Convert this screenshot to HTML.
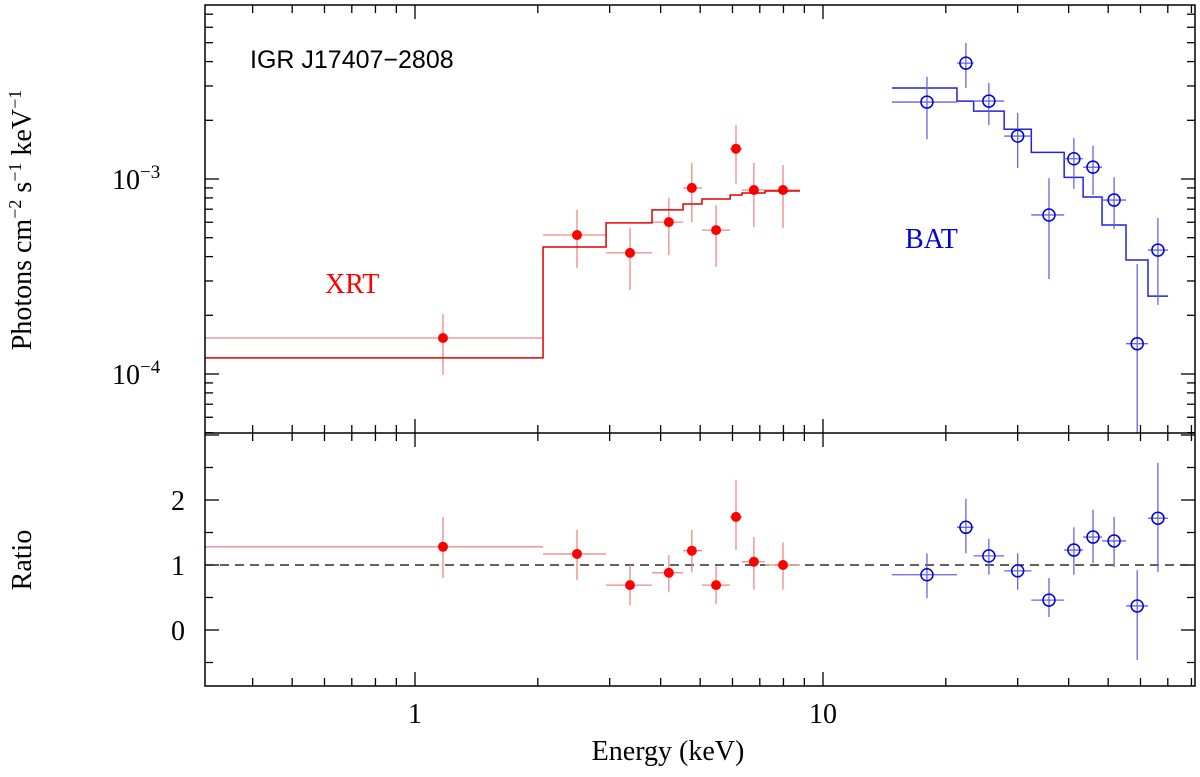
<!DOCTYPE html>
<html><head><meta charset="utf-8"><style>
body{margin:0;background:#fff}
svg{display:block}
text{font-family:"Liberation Serif",serif}
</style></head><body>
<svg id="c" width="1200" height="777" xmlns="http://www.w3.org/2000/svg"></svg>
<script>
const xrtE=[1.171,2.495,3.365,4.19,4.77,5.47,6.12,6.77,7.98];
const xrtElo=[0.305,2.06,2.94,3.81,4.54,5.05,5.92,6.33,7.21];
const xrtEhi=[2.06,2.94,3.81,4.54,5.05,5.92,6.33,7.21,8.78];
const xrtF=[1.53e-4,5.16e-4,4.18e-4,6.01e-4,9.0e-4,5.47e-4,1.43e-3,8.78e-4,8.78e-4];
const xrtFlo=[9.9e-5,3.5e-4,2.7e-4,4.07e-4,6.01e-4,3.54e-4,9.42e-4,5.67e-4,5.61e-4];
const xrtFhi=[2.03e-4,6.94e-4,5.61e-4,8.0e-4,1.21e-3,7.36e-4,1.89e-3,1.21e-3,1.18e-3];
const xrtModelEdges=[0.305,2.06,2.94,3.81,4.54,5.05,5.92,6.33,7.21,8.78];
const xrtModel=[1.21e-4,4.48e-4,5.96e-4,6.94e-4,7.44e-4,7.9e-4,8.28e-4,8.48e-4,8.68e-4];
const xrtRatio=[1.28,1.17,0.69,0.88,1.22,0.69,1.74,1.05,1.0];
const xrtRlo=[0.80,0.77,0.38,0.58,0.89,0.40,1.23,0.62,0.62];
const xrtRhi=[1.74,1.54,1.0,1.15,1.54,0.98,2.31,1.43,1.35];

const batE=[17.98,22.4,25.5,30.0,35.8,41.2,45.9,51.7,58.9,66.2];
const batElo=[14.76,21.3,23.4,27.8,32.4,39.0,43.4,48.3,55.3,62.6];
const batEhi=[21.3,23.4,27.8,32.4,39.0,43.4,48.3,55.3,62.6,70.1];
const batF=[2.48e-3,3.93e-3,2.51e-3,1.66e-3,6.54e-4,1.27e-3,1.15e-3,7.8e-4,1.43e-4,4.32e-4];
const batFlo=[1.60e-3,2.93e-3,1.89e-3,1.14e-3,3.07e-4,8.9e-4,8.28e-4,5.54e-4,1e-5,2.26e-4];
const batFhi=[3.34e-3,4.98e-3,3.11e-3,2.18e-3,1.01e-3,1.62e-3,1.48e-3,1.02e-3,3.67e-4,6.31e-4];
const batModelEdges=[14.76,21.3,23.4,27.8,32.4,39.0,43.4,48.3,55.3,62.6,70.1];
const batModel=[2.93e-3,2.51e-3,2.23e-3,1.80e-3,1.37e-3,1.02e-3,8.09e-4,5.81e-4,3.84e-4,2.51e-4];
const batRatio=[0.85,1.58,1.14,0.91,0.46,1.23,1.43,1.37,0.37,1.72];
const batRlo=[0.49,1.18,0.85,0.62,0.20,0.85,1.03,0.97,-0.46,0.89];
const batRhi=[1.18,2.02,1.40,1.18,0.80,1.58,1.85,1.74,0.92,2.57];

const yTickLabels=["10","10"];
const ratioTicks=[0,1,2];

const L=205,R=1195,T=5,M=433,B=686;
const X=e=>415+408*Math.log10(e);
const Y=v=>179-195*(Math.log10(v)+3);
const YR=r=>565-65*(r-1);
const svg=document.getElementById('c');
const NS='http://www.w3.org/2000/svg';
function mk(tag,at,parent){const e=document.createElementNS(NS,tag);for(const k in at)e.setAttribute(k,at[k]);(parent||svg).appendChild(e);return e;}

// clip paths
const defs=mk('defs',{});
const cp1=mk('clipPath',{id:'ct'},defs);mk('rect',{x:L,y:T,width:R-L,height:M-T},cp1);
const cp2=mk('clipPath',{id:'cb'},defs);mk('rect',{x:L,y:M,width:R-L,height:B-M},cp2);
const gt=mk('g',{'clip-path':'url(#ct)'});


const gb=mk('g',{'clip-path':'url(#cb)'});



function steps(edges,vals,yf,color,g,name){
  let d='';
  for(let i=0;i<vals.length;i++){
    const y=yf(vals[i]);
    d+=(i===0?'M':'L')+X(edges[i])+','+y+'L'+X(edges[i+1])+','+y;
  }
  const p=mk('path',{d:d,fill:'none',stroke:color,'stroke-width':1.5},g);
  
  
}
function pts(E,Elo,Ehi,V,Vlo,Vhi,yf,color,errColor,filled,g,name){
  for(let i=0;i<E.length;i++){
    const x=X(E[i]),y=yf(V[i]);
    const grp=mk('g',{},g);
    
    
    mk('line',{x1:X(Elo[i]),x2:X(Ehi[i]),y1:y,y2:y,stroke:errColor,'stroke-width':1.3},grp);
    mk('line',{x1:x,x2:x,y1:yf(Vlo[i]),y2:yf(Vhi[i]),stroke:errColor,'stroke-width':1.3},grp);
    if(filled)mk('circle',{cx:x,cy:y,r:5,fill:color},grp);
    else mk('circle',{cx:x,cy:y,r:6,fill:'none',stroke:color,'stroke-width':1.5},grp);
  }
}
const Yc=v=>Math.min(Y(v),M+5);
// top
pts(xrtE,xrtElo,xrtEhi,xrtF,xrtFlo,xrtFhi,Yc,'#ff0000','#ee8888',true,gt,'xrt-point');
steps(xrtModelEdges,xrtModel,Y,'#e00000',gt,'xrt-model');
steps(batModelEdges,batModel,Y,'#2222dd',gt,'bat-model');
pts(batE,batElo,batEhi,batF,batFlo,batFhi,Yc,'#0000dd','#6666dd',false,gt,'bat-point');
// bottom
const dl=mk('line',{x1:L,x2:R,y1:YR(1),y2:YR(1),stroke:'#000','stroke-width':1.2,'stroke-dasharray':'9,6'},gb);


pts(xrtE,xrtElo,xrtEhi,xrtRatio,xrtRlo,xrtRhi,YR,'#ff0000','#ee8888',true,gb,'xrt-ratio');
pts(batE,batElo,batEhi,batRatio,batRlo,batRhi,YR,'#0000dd','#6666dd',false,gb,'bat-ratio');

// frames
mk('rect',{x:L,y:T,width:R-L,height:B-T,fill:'none',stroke:'#000','stroke-width':1.5});
mk('line',{x1:L,x2:R,y1:M,y2:M,stroke:'#000','stroke-width':1.5});
// x ticks
const xt=[];
for(let d=-1;d<=1;d++)for(let m=1;m<=9;m++){const e=m*Math.pow(10,d);if(e>0.305&&e<81)xt.push([e,m===1]);}
for(const [e,maj] of xt){
  const x=X(e),len=maj?14:8;
  for(const [y0,dir] of [[T,1],[M,-1],[M,1],[B,-1]])
    mk('line',{x1:x,x2:x,y1:y0,y2:y0+dir*len,stroke:'#000','stroke-width':1.3});
}
// top y ticks
for(let d=-5;d<=-2;d++)for(let m=1;m<=9;m++){
  const v=m*Math.pow(10,d),y=Y(v);if(y<T||y>M)continue;
  const len=m===1?14:8;
  mk('line',{x1:L,x2:L+len,y1:y,y2:y,stroke:'#000','stroke-width':1.3});
  mk('line',{x1:R,x2:R-len,y1:y,y2:y,stroke:'#000','stroke-width':1.3});
}
// ratio ticks
for(let r=-0.5;r<=3;r+=0.5){
  const y=YR(r),len=Number.isInteger(r)?14:8;
  mk('line',{x1:L,x2:L+len,y1:y,y2:y,stroke:'#000','stroke-width':1.3});
  mk('line',{x1:R,x2:R-len,y1:y,y2:y,stroke:'#000','stroke-width':1.3});
}
function txt(s,at,name,color){const t=mk('text',Object.assign({fill:color||'#000'},at));t.innerHTML=s;return t;}
txt('10<tspan dy="-11" font-size="19">−3</tspan>',{x:112,y:189,'font-size':28},'y-tick-1e-3');
txt('10<tspan dy="-11" font-size="19">−4</tspan>',{x:112,y:384,'font-size':28},'y-tick-1e-4');
for(const r of ratioTicks)txt(String(r),{x:178,y:YR(r)+10,'font-size':28,'text-anchor':'middle'},'ratio-tick-'+r);
txt('1',{x:415,y:723,'font-size':28,'text-anchor':'middle'},'x-tick-1');
txt('10',{x:823,y:723,'font-size':28,'text-anchor':'middle'},'x-tick-10');
txt('Energy (keV)',{x:668,y:760,'font-size':28,'text-anchor':'middle'},'x-axis-title');
txt('Photons cm<tspan dy="-10" font-size="18">−2</tspan><tspan dy="10"> s</tspan><tspan dy="-10" font-size="18">−1</tspan><tspan dy="10"> keV</tspan><tspan dy="-10" font-size="18">−1</tspan>',{x:0,y:0,'font-size':28,'text-anchor':'middle',transform:'translate(31,220) rotate(-90)'},'y-axis-title');
txt('Ratio',{x:0,y:0,'font-size':28,'text-anchor':'middle',transform:'translate(31,560) rotate(-90)'},'ratio-axis-title');
txt('IGR J17407−2808',{x:250,y:68,'font-size':25,style:'font-family:"Liberation Sans",sans-serif'},'source-title');
txt('XRT',{x:325,y:293,'font-size':28},'xrt-label','#ff0000');
txt('BAT',{x:905,y:248,'font-size':28},'bat-label','#0000dd');
</script>
</body></html>
